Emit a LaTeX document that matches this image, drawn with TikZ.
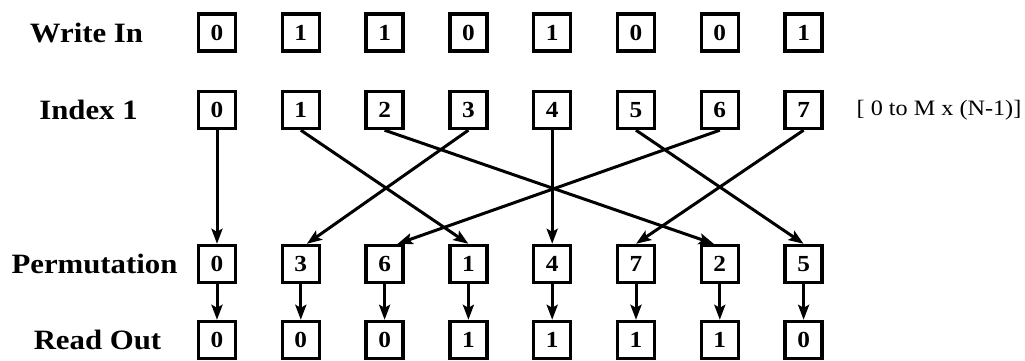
\documentclass[tikz,border=0pt]{standalone}
\usepackage{fontspec}
\setmainfont{Liberation Serif}
\newfontfamily\labfont[FakeStretch=1.1]{Liberation Serif}
\usetikzlibrary{arrows.meta}
\begin{document}
\begin{tikzpicture}[x=1pt,y=-1pt,
  cell/.style={draw, line width=3.4pt, minimum width=37pt, minimum height=37pt, inner sep=0pt,
    font=\labfont\bfseries\fontsize{23}{23}\selectfont},
  rowlabel/.style={font=\labfont\bfseries\fontsize{28}{30}\selectfont, inner sep=0pt},
  note/.style={font=\labfont\fontsize{22}{24}\selectfont, inner sep=0pt},
  link/.style={line width=3pt, -{Stealth[length=15pt,width=11pt,inset=3pt]}}]
\useasboundingbox (0,0) rectangle (1025,360);
% row labels
\node[rowlabel] (lw) at (86.5,32.5) {Write In};
\node[rowlabel] (li) at (88.5,110) {Index 1};
\node[rowlabel] (lp) at (94.5,264) {Permutation};
\node[rowlabel] (lr) at (97.5,340) {Read Out};
\node[note] (range) at (939,110) {[ 0 to M x (N-1)]};
% rows of cells
\foreach \v [count=\i from 0] in {0,1,1,0,1,0,0,1}
  \node[cell] (w\i) at ({217+83.8*\i},32.5) {\v};
\foreach \i in {0,...,7}
  \node[cell] (x\i) at ({217+83.8*\i},110) {\i};
\foreach \v [count=\i from 0] in {0,3,6,1,4,7,2,5}
  \node[cell, alias=pp\i] (p\v) at ({217+83.8*\i},264) {\v};
\foreach \v [count=\i from 0] in {0,0,0,1,1,1,1,0}
  \node[cell] (r\i) at ({217+83.8*\i},340) {\v};
% permutation connectors
\draw[link] (x0.south) -- (p0.north);
\draw[link] (x1.south) -- (p1.north);
\draw[link] (x2.south) -- ([xshift=-6pt]p2.north);
\draw[link] (x3.south) -- ([xshift=6pt]p3.north);
\draw[link] (x4.south) -- (p4.north);
\draw[link] (x5.south) -- (p5.north);
\draw[link] (x6.south) -- ([xshift=13pt]p6.north);
\draw[link] (x7.south) -- (p7.north);
% read out connectors
\foreach \i in {0,...,7}
  \draw[link] (pp\i.south) -- (r\i.north);
\end{tikzpicture}
\end{document}
